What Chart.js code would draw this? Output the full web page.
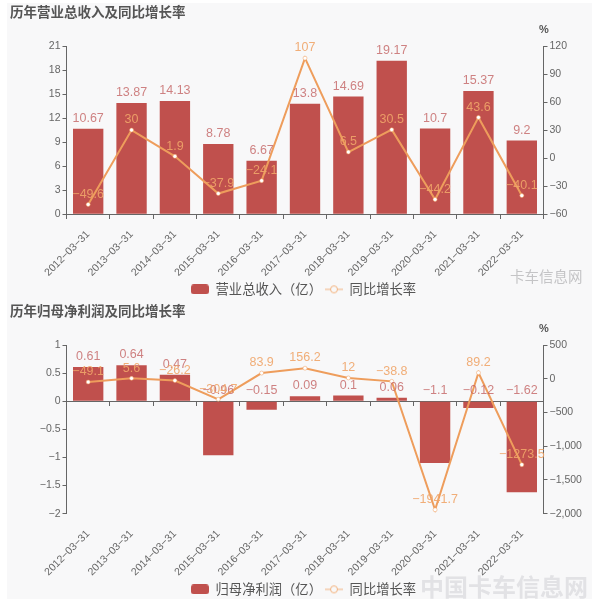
<!DOCTYPE html>
<html>
<head>
<meta charset="utf-8">
<script src="https://cdn.jsdelivr.net/npm/chart.js@4"></script>
<style>
    html, body { margin: 0; padding: 0; background: #fff; }
    #page { position: relative; width: 600px; height: 602px; overflow: hidden; font-family: "Noto Sans CJK SC", sans-serif; }
    .panel { position: absolute; left: 7px; top: 3px; width: 585px; height: 596px; background: #f8f8f9; }
    .widget { position: absolute; left: 0; width: 600px; height: 300px; }
    .widget h2 { position: absolute; left: 10px; top: 0; margin: 0; font-size: 13.5px; line-height: 22px; font-weight: 700; color: #555; }
    #profit h2 { top: -1px; }
    .mark { position: absolute; white-space: nowrap; }
</style>
</head>
<body>
<div id="page">
    <div class="panel"></div>
    <div class="widget" id="revenue" style="top: 0;"><canvas></canvas><h2>历年营业总收入及同比增长率</h2></div>
    <div class="widget" id="profit" style="top: 300px;"><canvas></canvas><h2>历年归母净利润及同比增长率</h2></div>
    <div class="mark" style="left: 510px; top: 265px; font-size: 14.5px; color: #c4c4c6;">卡车信息网</div>
    <div class="mark" style="left: 420px; top: 568px; font-size: 24px; font-weight: 700; color: #e2e2e5;">中国卡车信息网</div>
</div>
<script>
const dates = ["2012-03-31", "2013-03-31", "2014-03-31", "2015-03-31", "2016-03-31", "2017-03-31",
    "2018-03-31", "2019-03-31", "2020-03-31", "2021-03-31", "2022-03-31"];

const revenue = {
    barName: "营业总收入（亿）",
    bars: [10.67, 13.87, 14.13, 8.78, 6.67, 13.8, 14.69, 19.17, 10.7, 15.37, 9.2],
    growth: [-49.6, 30, 1.9, -37.9, -24.1, 107, 6.5, 30.5, -44.2, 43.6, -40.1],
    left: { min: 0, max: 21, step: 3 },
    right: { min: -60, max: 120, step: 30 },
    top: 46, xHeight: 65.5
};

const profit = {
    barName: "归母净利润（亿）",
    bars: [0.61, 0.64, 0.47, -0.96, -0.15, 0.09, 0.1, 0.06, -1.1, -0.12, -1.62],
    growth: [-49.1, 5.6, -26.2, -304.7, 83.9, 156.2, 12, -38.8, -1941.7, 89.2, -1273.5],
    left: { min: -2, max: 1, step: 0.5 },
    right: { min: -2000, max: 500, step: 500 },
    top: 45, xHeight: 66
};

const BAR_COLOR = "#c0504d";
const LINE_COLOR = "#ee9d5c";
const AXIS_COLOR = "#666";
const TICK_FONT = { family: "Liberation Sans", size: 10.5 };

const minus = text => String(text).replace(/-/g, "\u2212");

const getBarSwatch = () => {
    const canvas = document.createElement("canvas");
    canvas.width = 18;
    canvas.height = 10;
    const ctx = canvas.getContext("2d");
    ctx.fillStyle = BAR_COLOR;
    ctx.beginPath();
    ctx.roundRect(0, 0, 18, 10, 3);
    ctx.fill();
    return canvas;
}

const getLineSwatch = () => {
    const canvas = document.createElement("canvas");
    canvas.width = 18;
    canvas.height = 12;
    const ctx = canvas.getContext("2d");
    ctx.strokeStyle = "#f3b27e";
    ctx.lineWidth = 1;
    ctx.beginPath();
    ctx.moveTo(0, 6);
    ctx.lineTo(18, 6);
    ctx.stroke();
    ctx.fillStyle = "#f8f8f9";
    ctx.beginPath();
    ctx.arc(9, 6, 3.5, 0, Math.PI * 2);
    ctx.fill();
    ctx.stroke();
    return canvas;
}

// Value labels and the percent sign are drawn by hand
const labelPlugin = {
    id: "valueLabels",
    afterDatasetsDraw(chart) {
        const ctx = chart.ctx;
        const zero = chart.scales.y.getPixelForValue(0);
        ctx.save();
        ctx.font = "12.5px 'Liberation Sans'";
        ctx.textAlign = "center";
        ctx.textBaseline = "bottom";
        chart.data.datasets.forEach((dataset, i) => {
            const points = chart.getDatasetMeta(i).data;
            ctx.fillStyle = dataset.type === "line" ? "rgba(240, 165, 105, 0.9)" : "rgba(192, 90, 90, 0.75)";
            points.forEach((point, j) => {
                const isBar = dataset.type !== "line";
                const y = isBar ? Math.min(point.y, zero) : point.y;
                ctx.fillText(minus(dataset.data[j]), point.x, y - 4);
            });
        });
        ctx.fillStyle = "#555";
        ctx.font = "bold 11px 'Liberation Sans'";
        ctx.fillText("%", chart.scales.y2.left + 0.5, chart.scales.y2.top - 11);
        ctx.restore();
    }
};

const getConfig = entry => ({
    type: "bar",
    data: {
        labels: dates,
        datasets: [
            {
                type: "bar",
                label: entry.barName,
                data: entry.bars,
                backgroundColor: BAR_COLOR,
                barPercentage: 0.7,
                categoryPercentage: 1,
                xAxisID: "x",
                yAxisID: "y",
                order: 1
            },
            {
                type: "line",
                label: "同比增长率",
                data: entry.growth,
                borderColor: LINE_COLOR,
                borderWidth: 2,
                pointRadius: 2,
                pointBorderWidth: 0.5,
                pointBorderColor: LINE_COLOR,
                pointBackgroundColor: "#fff",
                tension: 0,
                xAxisID: "x",
                yAxisID: "y2",
                order: 0
            }
        ]
    },
    options: {
        responsive: false,
        animation: false,
        // Left padding nudges the centered legend, the axis width below makes up for it
        layout: { padding: { top: entry.top, bottom: -6, left: 7 } },
        plugins: {
            tooltip: { enabled: false },
            legend: {
                position: "bottom",
                labels: {
                    usePointStyle: true,
                    pointStyleWidth: 18,
                    color: "#555",
                    padding: 3,
                    font: { family: "Noto Sans CJK SC", size: 13.3 },
                    generateLabels: () => [
                        { text: entry.barName, pointStyle: getBarSwatch(), datasetIndex: 0, fontColor: "#555" },
                        { text: "同比增长率", pointStyle: getLineSwatch(), datasetIndex: 1, fontColor: "#555" }
                    ]
                }
            }
        },
        scales: {
            // Labels stay at the bottom, the axis line itself sits on zero
            x: {
                position: "bottom",
                border: { display: false },
                grid: { display: false },
                ticks: {
                    color: "#666",
                    font: TICK_FONT,
                    minRotation: 45,
                    maxRotation: 45,
                    padding: 6,
                    autoSkip: false,
                    callback(value) { return minus(this.getLabelForValue(value)); }
                },
                afterFit: scale => { scale.height = entry.xHeight; }
            },
            xZero: {
                type: "category",
                position: { y: 0 },
                border: { color: AXIS_COLOR },
                grid: { drawOnChartArea: false, offset: true, tickLength: 4, color: AXIS_COLOR },
                ticks: { display: false }
            },
            y: {
                position: "left",
                min: entry.left.min,
                max: entry.left.max,
                border: { color: AXIS_COLOR },
                grid: { drawOnChartArea: false, tickLength: 4, color: AXIS_COLOR },
                ticks: {
                    stepSize: entry.left.step,
                    color: "#666",
                    font: TICK_FONT,
                    padding: 2,
                    callback: value => minus(value)
                },
                afterFit: scale => { scale.width = 59.5; }
            },
            y2: {
                position: "right",
                min: entry.right.min,
                max: entry.right.max,
                border: { color: AXIS_COLOR },
                grid: { drawOnChartArea: false, tickLength: 4, color: AXIS_COLOR },
                ticks: {
                    stepSize: entry.right.step,
                    color: "#666",
                    font: TICK_FONT,
                    padding: 2,
                    callback: value => minus(value.toLocaleString("en-US"))
                },
                afterFit: scale => { scale.width = 56.5; }
            }
        }
    },
    plugins: [labelPlugin]
});

const drawWidget = (id, entry) => {
    const canvas = document.querySelector("#" + id + " canvas");
    canvas.width = 600;
    canvas.height = 300;
    canvas.style.display = "block";
    new Chart(canvas, getConfig(entry));
}

drawWidget("revenue", revenue);
drawWidget("profit", profit);
</script>
</body>
</html>
